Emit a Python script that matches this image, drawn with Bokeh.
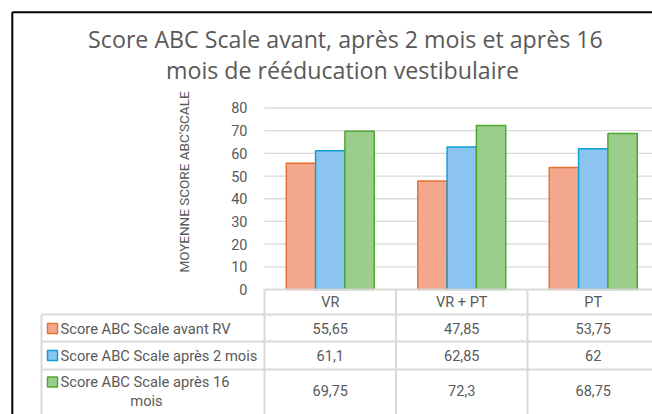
import textwrap
import numpy as np
from bokeh.plotting import figure
from bokeh.models import Range1d
from bokeh.core.properties import value
from bokeh.embed import file_html
from bokeh.resources import INLINE

# ---------------- data ----------------
title_lines = ["Score ABC Scale avant, après 2 mois et après 16",
               "mois de rééducation vestibulaire"]
y_axis_title = "MOYENNE SCORE ABC'SCALE"
categories = ["VR", "VR + PT", "PT"]
series_names = ["Score ABC Scale avant RV",
                "Score ABC Scale après 2 mois",
                "Score ABC Scale après 16 mois"]
score_avant = [55.65, 47.85, 53.75]
score_2_mois = [61.1, 62.85, 62]
score_16_mois = [69.75, 72.3, 68.75]
y_ticks = [0, 10, 20, 30, 40, 50, 60, 70, 80]

series_values = [score_avant, score_2_mois, score_16_mois]

# ---------------- styles ----------------
fills = ["#F3A88E", "#8CC4F0", "#9BCD8C"]
lines = ["#E97132", "#0F9ED5", "#4EA72E"]
TXT = "#595959"
GRID = "#D9D9D9"
FONT = value("Roboto")
TITLE_FONT = value("Open Sans")

# ---------------- layout (page pixels -> data) ----------------
W, H = 652, 414
CAT_LEFT = 264.0      # page x where first category starts
CAT_W = 131.5         # pixel width of one category
ZERO_Y = 289.0        # page y of value 0
PX_PER_UNIT = 2.269   # pixels per value unit


def X(px):
    return (px - CAT_LEFT) / CAT_W


def Y(py):
    return (ZERO_Y - py) / PX_PER_UNIT


p = figure(width=W, height=H,
           x_range=Range1d(X(0), X(W)), y_range=Range1d(Y(H), Y(0)),
           min_border=0, x_axis_location=None, y_axis_location=None,
           toolbar_location=None, output_backend="svg")
p.outline_line_color = None
p.background_fill_color = "white"
p.border_fill_color = "white"
p.grid.visible = False
p.xgrid.visible = False
p.ygrid.visible = False

n_cat = len(categories)
cat_idx = np.arange(n_cat)
x_end = X(W + 20)
y_bottom = Y(H + 20)

# chart border (black)
p.segment(x0=[X(11.8), X(11.8)], y0=[Y(11.8), Y(11.8)],
          x1=[X(11.8), x_end], y1=[y_bottom, Y(11.8)],
          line_color="black", line_width=2)

# gridlines
grid_ticks = [t for t in y_ticks if t > 0]
p.segment(x0=[0] * len(grid_ticks), y0=grid_ticks, x1=[x_end] * len(grid_ticks),
          y1=grid_ticks, line_color=GRID, line_width=1.3)

# tick labels
p.text(x=[X(247)] * len(y_ticks), y=y_ticks, text=[str(t) for t in y_ticks],
       text_align="right", text_baseline="middle", text_color=TXT,
       text_font=FONT, text_font_size="14.5px")

# axis title
p.text(x=[X(183)], y=[Y(181.5)], text=[y_axis_title], angle=np.pi / 2,
       text_align="center", text_baseline="middle", text_color=TXT,
       text_font=FONT, text_font_size="13.5px")

# title
p.text(x=[X(345), X(342)], y=[Y(38.5), Y(69.5)], text=title_lines,
       text_align="center", text_baseline="middle", text_color=TXT,
       text_font=TITLE_FONT, text_font_size="23.2px")

# bars
BW = 0.223
for j, vals in enumerate(series_values):
    p.vbar(x=cat_idx + 0.5 + (j - 1) * BW, top=vals, bottom=0, width=BW,
           fill_color=fills[j], line_color=lines[j], line_width=1.5)

# ---------------- data table ----------------
row_lines_y = [314, 341, 369]
row_centers = [327.5, 355, 389.5]
legend_first_line_y = [328, 355, 381.5]

# horizontal lines
p.segment(x0=[0], y0=[0], x1=[x_end], y1=[0], line_color=GRID, line_width=2)
p.segment(x0=[X(41)] * 3, y0=[Y(v) for v in row_lines_y],
          x1=[x_end] * 3, y1=[Y(v) for v in row_lines_y],
          line_color=GRID, line_width=2)
# vertical lines
p.segment(x0=[X(41)], y0=[Y(314)], x1=[X(41)], y1=[y_bottom],
          line_color=GRID, line_width=2)
p.segment(x0=cat_idx, y0=[0] * n_cat, x1=cat_idx, y1=[y_bottom] * n_cat,
          line_color=GRID, line_width=2)

# header
p.text(x=cat_idx + 0.5, y=[Y(301.5)] * n_cat, text=categories,
       text_align="center", text_baseline="middle", text_color=TXT,
       text_font=FONT, text_font_size="14.5px")


def fmt(v):
    return f"{v:g}".replace(".", ",")


for r, vals in enumerate(series_values):
    p.text(x=cat_idx + 0.5, y=[Y(row_centers[r])] * n_cat,
           text=[fmt(v) for v in vals], text_align="center",
           text_baseline="middle", text_color=TXT, text_font=FONT,
           text_font_size="14.5px")
    # legend key
    p.rect(x=[X(52)], y=[Y(legend_first_line_y[r])], width=10, height=10,
           width_units="screen", height_units="screen",
           fill_color=fills[r], line_color=lines[r], line_width=1.5)
    wrapped = textwrap.wrap(series_names[r], 28)
    p.text(x=[X(60)], y=[Y(legend_first_line_y[r])], text=[wrapped[0]],
           text_align="left", text_baseline="middle", text_color=TXT,
           text_font=FONT, text_font_size="14.7px")
    for k, extra in enumerate(wrapped[1:]):
        p.text(x=[X(146)], y=[Y(legend_first_line_y[r] + 19 * (k + 1))],
               text=[extra], text_align="center", text_baseline="middle",
               text_color=TXT, text_font=FONT, text_font_size="14.7px")

open("out.html", "w").write(file_html(p, INLINE))
